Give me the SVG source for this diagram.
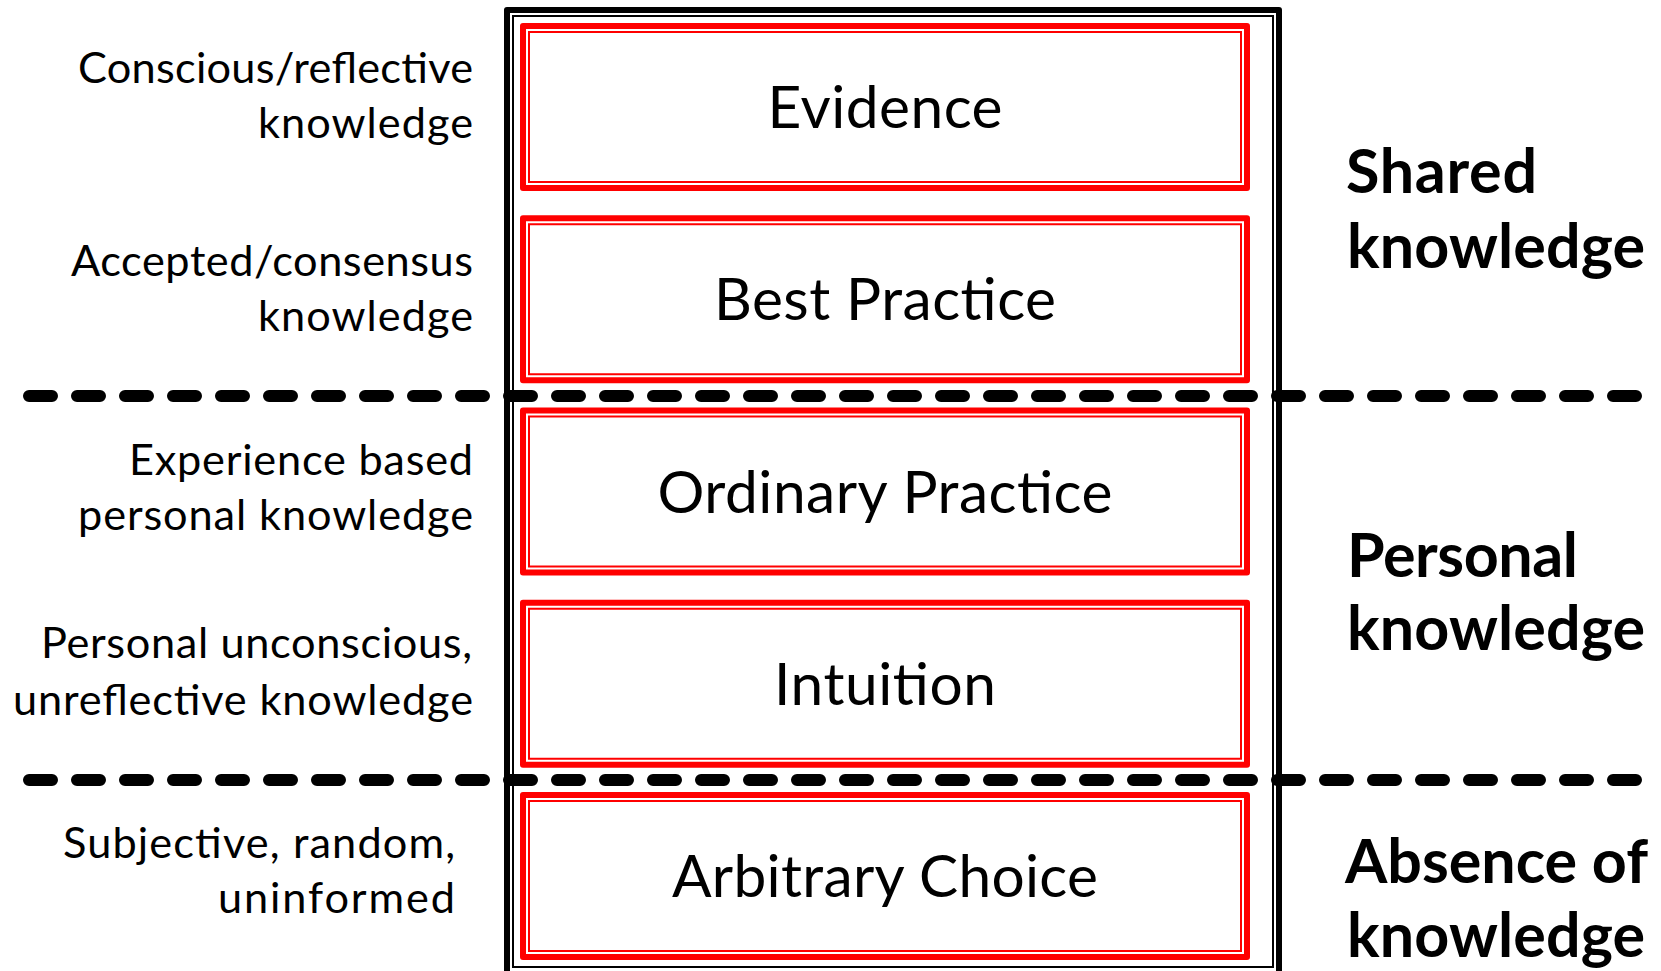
<svg xmlns="http://www.w3.org/2000/svg" width="1661" height="971" viewBox="0 0 1661 971">
<style>
.thick{fill:none;stroke:#ff0000;stroke-width:6;stroke-linejoin:round}
.thin{fill:none;stroke:#ff0000;stroke-width:2}
.lbl{font-family:Lato,"Open Sans","Liberation Sans",sans-serif;font-size:58.6px;fill:#000;text-anchor:middle}
.side{font-family:Lato,"Open Sans","Liberation Sans",sans-serif;font-size:43.3px;fill:#000;text-anchor:end}
.cat{font-family:Lato,"Open Sans","Liberation Sans",sans-serif;font-size:61px;font-weight:700;fill:#000}
.sep{fill:none;stroke:#000;stroke-width:12;stroke-linecap:round;stroke-dasharray:23 25}
</style>
<rect width="1661" height="971" fill="#fff"/>
<g id="frame">
<rect x="507" y="10" width="772" height="975" fill="none" stroke="#000" stroke-width="6" stroke-linejoin="round"/>
<rect x="513" y="16" width="760" height="951" fill="none" stroke="#000" stroke-width="2"/>
</g>
<g id="evidence">
<rect class="thick" x="523" y="26" width="724" height="162"/>
<rect class="thin" x="529" y="32" width="712" height="150"/>
<text class="lbl" x="885" y="128" textLength="235">Evidence</text>
</g>
<g id="best-practice">
<rect class="thick" x="523" y="218.25" width="724" height="162"/>
<rect class="thin" x="529" y="224.25" width="712" height="150"/>
<text class="lbl" x="885" y="320" textLength="342">Best Practice</text>
</g>
<g id="ordinary-practice">
<rect class="thick" x="523" y="410.5" width="724" height="162"/>
<rect class="thin" x="529" y="416.5" width="712" height="150"/>
<text class="lbl" x="885" y="512.5" textLength="455">Ordinary Practice</text>
</g>
<g id="intuition">
<rect class="thick" x="523" y="602.75" width="724" height="162"/>
<rect class="thin" x="529" y="608.75" width="712" height="150"/>
<text class="lbl" x="885" y="705" textLength="222">Intuition</text>
</g>
<g id="arbitrary-choice">
<rect class="thick" x="523" y="795" width="724" height="162"/>
<rect class="thin" x="529" y="801" width="712" height="150"/>
<text class="lbl" x="885" y="897" textLength="426">Arbitrary Choice</text>
</g>
<g id="left-labels">
<text class="side" x="473" y="83" textLength="395">Conscious/reflective</text>
<text class="side" x="473" y="138" textLength="215">knowledge</text>
<text class="side" x="473" y="276" textLength="402">Accepted/consensus</text>
<text class="side" x="473" y="331" textLength="215">knowledge</text>
<text class="side" x="473" y="475" textLength="344">Experience based</text>
<text class="side" x="473" y="530" textLength="395">personal knowledge</text>
<text class="side" x="472" y="658" textLength="431">Personal unconscious,</text>
<text class="side" x="473" y="715" textLength="460">unreflective knowledge</text>
<text class="side" x="455" y="858" textLength="392">Subjective, random,</text>
<text class="side" x="455" y="913" textLength="237">uninformed</text>
</g>
<g id="right-labels">
<text class="cat" x="1346" y="193" textLength="191">Shared</text>
<text class="cat" x="1347" y="268" textLength="298">knowledge</text>
<text class="cat" x="1347" y="577" textLength="231">Personal</text>
<text class="cat" x="1347" y="650" textLength="298">knowledge</text>
<text class="cat" x="1345" y="883" textLength="303">Absence of</text>
<text class="cat" x="1347" y="957" textLength="298">knowledge</text>
</g>
<g id="connectors">
<path class="sep" d="M29 396H1636"/>
<path class="sep" d="M29 780H1636"/>
</g>
</svg>
